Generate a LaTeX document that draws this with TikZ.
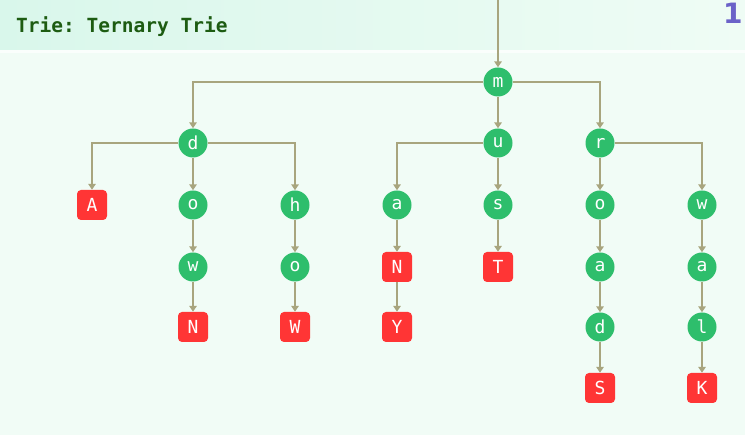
\documentclass[tikz,border=0pt]{standalone}
\usepackage{fontspec}
\setmonofont{DejaVu Sans Mono}
\setsansfont{DejaVu Sans}
\usetikzlibrary{arrows.meta}
\definecolor{bgmint}{HTML}{F1FCF6}
\definecolor{bandleft}{HTML}{D9F7EB}
\definecolor{bandright}{HTML}{EFFCF5}
\definecolor{edgeolive}{HTML}{A8A57E}
\definecolor{keygreen}{HTML}{2EBE6C}
\definecolor{endred}{HTML}{FF3535}
\definecolor{titlegreen}{HTML}{1D5C12}
\definecolor{pagepurple}{HTML}{6B62C8}
\begin{document}
\begin{tikzpicture}[x=1pt, y=-1pt,
  key/.style={circle, fill=keygreen, text=white, minimum size=29pt, inner sep=0pt,
    font=\ttfamily\fontsize{18}{18}\selectfont},
  word/.style={rounded corners=4pt, fill=endred, text=white, minimum size=30pt, inner sep=0pt,
    font=\ttfamily\fontsize{18}{18}\selectfont},
  link/.style={draw=edgeolive, line width=2.6pt, -{Triangle[length=6pt, width=7.5pt]}}]
\useasboundingbox (0,0) rectangle (745,435);
\fill[bgmint] (0,0) rectangle (745,435);
\shade[left color=bandleft, right color=bandright] (0,0) rectangle (745,50);
\fill[white, opacity=0.7] (0,50) rectangle (745,53);
\node[anchor=base west, text=titlegreen, font=\ttfamily\bfseries\fontsize{19.5}{20}\selectfont, inner sep=0pt] (title) at (16,33) {Trie: Ternary Trie};
\node[anchor=north west, text=pagepurple, font=\sffamily\bfseries\fontsize{28}{28}\selectfont, inner sep=0pt] (page) at (723,3) {1.};
% root
\coordinate (top) at (498,0);
\node[key] (m) at (498,82) {m};
% level 1
\node[key] (d) at (193,143) {d};
\node[key] (u) at (498,143) {u};
\node[key] (r) at (600,143) {r};
% level 2
\node[word] (A) at (92,205) {A};
\node[key] (o1) at (193,205) {o};
\node[key] (h) at (295,205) {h};
\node[key] (a1) at (397,205) {a};
\node[key] (s) at (498,205) {s};
\node[key] (o2) at (600,205) {o};
\node[key] (w2) at (702,205) {w};
% level 3
\node[key] (w1) at (193,267) {w};
\node[key] (o3) at (295,267) {o};
\node[word] (N1) at (397,267) {N};
\node[word] (T) at (498,267) {T};
\node[key] (a2) at (600,267) {a};
\node[key] (a3) at (702,267) {a};
% level 4
\node[word] (N2) at (193,327) {N};
\node[word] (W) at (295,327) {W};
\node[word] (Y) at (397,327) {Y};
\node[key] (d2) at (600,327) {d};
\node[key] (l) at (702,327) {l};
% level 5
\node[word] (S) at (600,388) {S};
\node[word] (K) at (702,388) {K};
% links
\draw[link] (top) -- (m);
\draw[link] (m) -| (d);
\draw[link] (m) -- (u);
\draw[link] (m) -| (r);
\draw[link] (d) -| (A);
\draw[link] (d) -- (o1);
\draw[link] (d) -| (h);
\draw[link] (u) -| (a1);
\draw[link] (u) -- (s);
\draw[link] (r) -- (o2);
\draw[link] (r) -| (w2);
\draw[link] (o1) -- (w1);
\draw[link] (w1) -- (N2);
\draw[link] (h) -- (o3);
\draw[link] (o3) -- (W);
\draw[link] (a1) -- (N1);
\draw[link] (N1) -- (Y);
\draw[link] (s) -- (T);
\draw[link] (o2) -- (a2);
\draw[link] (a2) -- (d2);
\draw[link] (d2) -- (S);
\draw[link] (w2) -- (a3);
\draw[link] (a3) -- (l);
\draw[link] (l) -- (K);
\end{tikzpicture}
\end{document}
